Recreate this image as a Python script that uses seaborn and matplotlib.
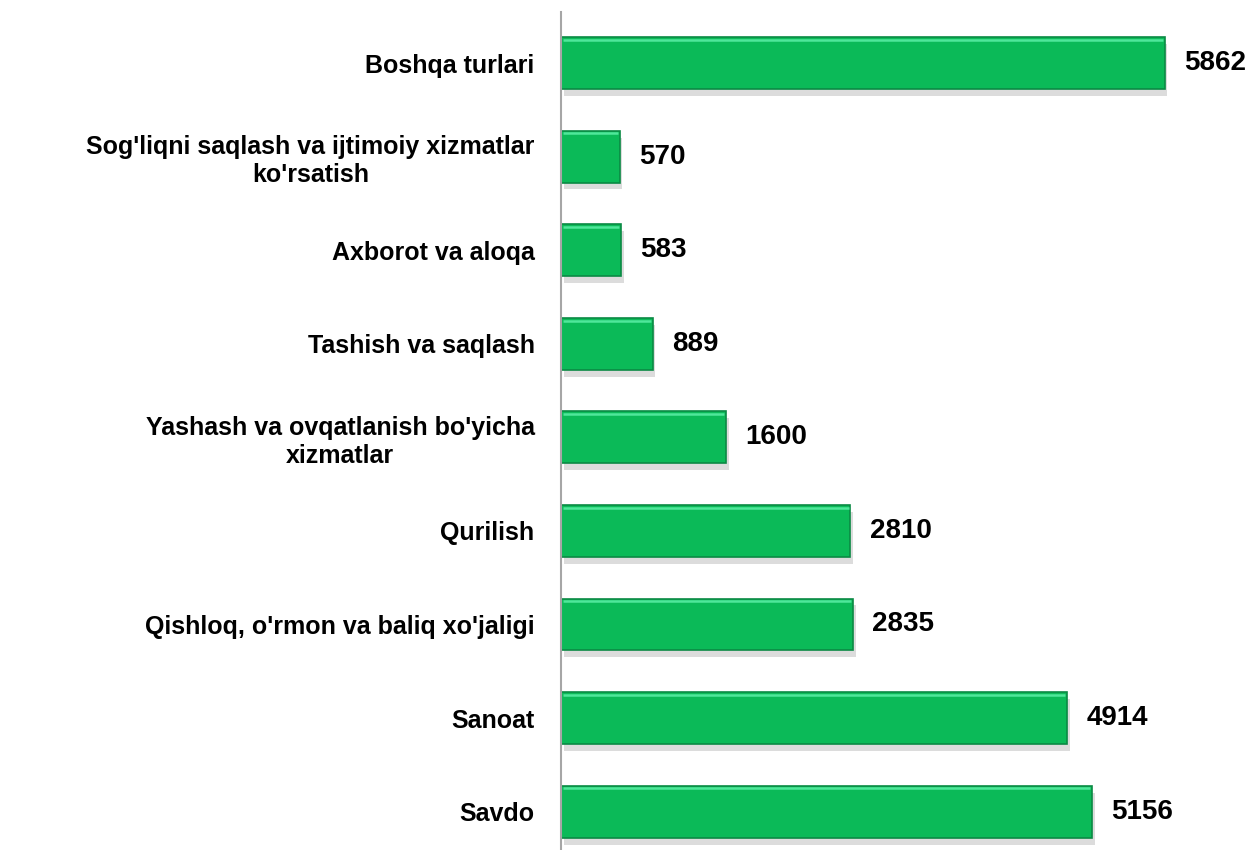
import matplotlib
matplotlib.use("Agg")
import matplotlib.pyplot as plt
import matplotlib.patheffects as pe
import seaborn as sns
import pandas as pd

categories = [
    "Boshqa turlari",
    "Sog'liqni saqlash va ijtimoiy xizmatlar\nko'rsatish",
    "Axborot va aloqa",
    "Tashish va saqlash",
    "Yashash va ovqatlanish bo'yicha\nxizmatlar",
    "Qurilish",
    "Qishloq, o'rmon va baliq xo'jaligi",
    "Sanoat",
    "Savdo",
]
values = [5862, 570, 583, 889, 1600, 2810, 2835, 4914, 5156]

GREEN = "#0BBA58"

sns.set_theme(style="white")
plt.rcParams["font.family"] = ["Liberation Sans", "DejaVu Sans"]

df = pd.DataFrame({"cat": categories, "val": values})

fig = plt.figure(figsize=(12.56, 8.5), dpi=100)
ax = fig.add_axes([561 / 1256, 0.0, 1 - 561 / 1256, 1 - 12 / 850])

sns.barplot(data=df, y="cat", x="val", orient="h", color=GREEN, width=0.555,
            saturation=1, edgecolor="#0A8A44", linewidth=1.2, ax=ax)

for p in ax.patches:
    p.set_path_effects([
        pe.SimplePatchShadow(offset=(2, -5), shadow_rgbFace="#8c8c8c", alpha=0.3),
        pe.Normal(),
    ])
    # light bevel along the top edge
    x0, y0 = p.get_x(), p.get_y()
    w = p.get_width()
    ax.plot([x0 + 15, x0 + w - 15], [y0 + 0.03, y0 + 0.03],
            color="#4FE79A", lw=1.8, solid_capstyle="butt", zorder=3)

for i, v in enumerate(values):
    ax.text(v + 190, i, f"{v}", va="center", ha="left",
            fontsize=20, fontweight="bold", color="black")

ax.set_xlim(0, 6750)
ax.set_ylim(8.41, -0.545)
ax.set_xlabel("")
ax.set_ylabel("")
ax.set_xticks([])
ax.tick_params(axis="y", length=0, pad=19)
for lbl in ax.get_yticklabels():
    lbl.set_fontsize(18)
    lbl.set_fontweight("bold")
    lbl.set_multialignment("center")
    lbl.set_color("black")

for side in ["top", "right", "bottom"]:
    ax.spines[side].set_visible(False)
ax.spines["left"].set_color("#A6A6A6")
ax.spines["left"].set_linewidth(1.5)

fig.savefig("out.png", dpi=100)
